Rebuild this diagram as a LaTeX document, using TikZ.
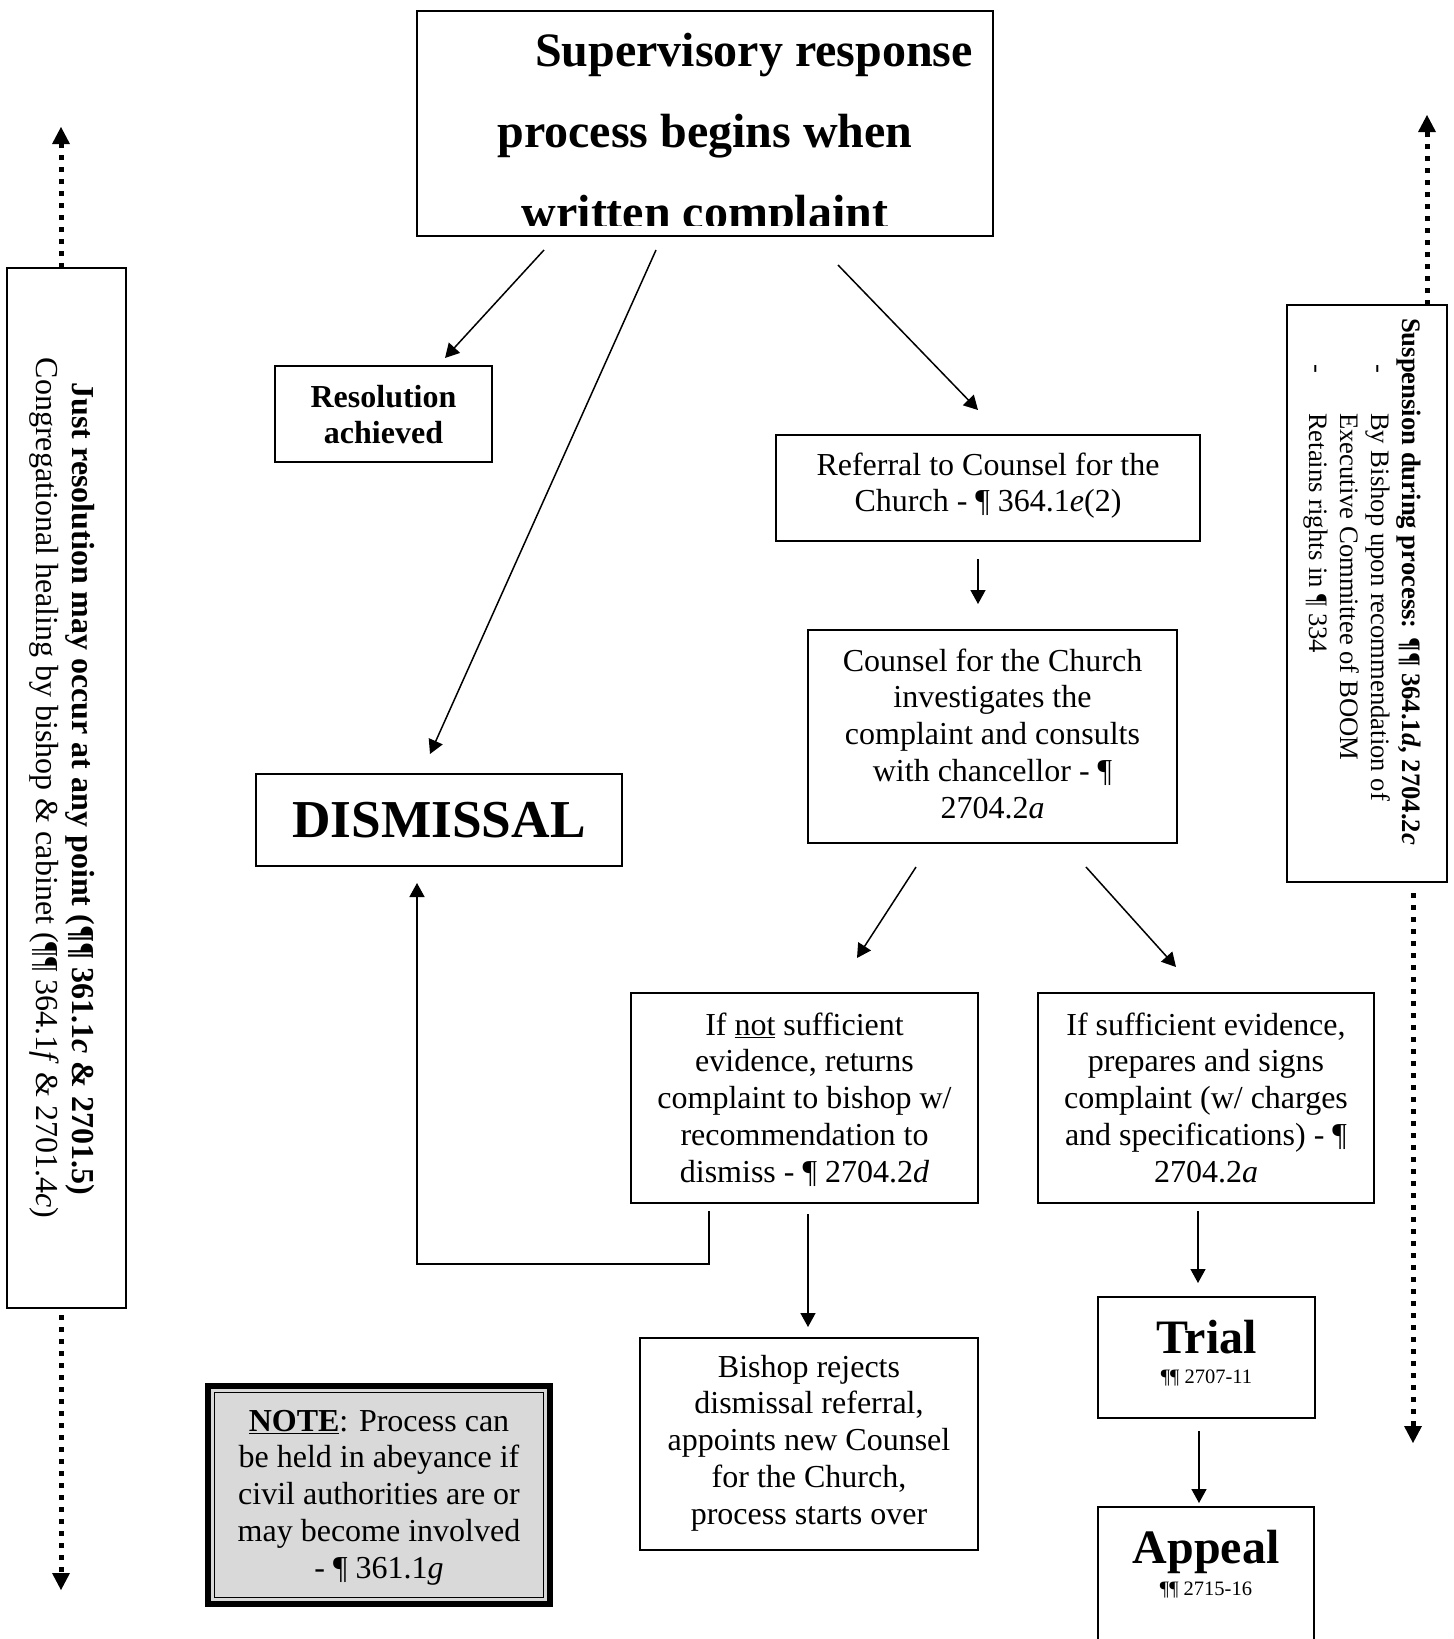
\documentclass[tikz,border=0pt]{standalone}
\usepackage{fontspec}
\setmainfont{Liberation Serif}
\usetikzlibrary{arrows.meta,calc}
\newcommand{\fsz}[2]{\fontsize{#1}{#2}\selectfont}
\newcommand{\lines}[1]{\begin{tabular}[t]{@{}c@{}}#1\end{tabular}}
\begin{document}
\begin{tikzpicture}[x=1pt,y=-1pt,
  box/.style={draw, line width=1.8pt, inner sep=0pt, outer sep=0pt},
  txt/.style={inner sep=0pt, outer sep=0pt},
  body/.style={txt, font=\fsz{32}{36.8}},
  bbody/.style={txt, font=\fsz{32}{36.8}\bfseries},
  small/.style={txt, font=\fsz{26.67}{30.67}},
  arr/.style={line width=1.5pt, -{Triangle[width=15pt,length=14pt]}},
  dots/.style={line width=5pt, dash pattern=on 5pt off 7pt, -{Triangle[width=18pt,length=17pt,line width=0pt]}},
]
\useasboundingbox (0,0) rectangle (1454,1639);
\fill[white] (0,0) rectangle (1454,1639);

% boxes
\node[box, minimum width=576pt, minimum height=225pt] (top) at (705,123.5) {};
\node[box, minimum width=217pt, minimum height=96pt] (res) at (383.5,414) {};
\node[box, minimum width=366pt, minimum height=92pt] (dis) at (439,820) {};
\node[box, minimum width=424pt, minimum height=106pt] (ref) at (988,488) {};
\node[box, minimum width=369pt, minimum height=213pt] (cou) at (992.5,736.5) {};
\node[box, minimum width=347pt, minimum height=210pt] (notb) at (804.5,1098) {};
\node[box, minimum width=336pt, minimum height=210pt] (suff) at (1206,1098) {};
\node[box, minimum width=338pt, minimum height=212pt] (bish) at (809,1444) {};
\node[box, minimum width=217pt, minimum height=121pt] (trial) at (1206.5,1357.5) {};
\node[box, minimum width=216pt, minimum height=193pt] (appeal) at (1206,1603.5) {};
\node[box, minimum width=119pt, minimum height=1040pt] (left) at (66.5,788) {};
\node[box, minimum width=160pt, minimum height=577pt] (right) at (1367,593.5) {};
\node[draw, line width=6pt, fill=gray!30, inner sep=0pt, outer sep=0pt,
      minimum width=342pt, minimum height=218pt] (note) at (379,1495) {};
\draw[line width=1.5pt] ($(note.south west)+(6.5,-6.5)$) rectangle ($(note.north east)+(-6.5,6.5)$);

% top text (third line clipped by the box)
\begin{scope}
\clip (417,11) rectangle (993,225);
\node[txt, anchor=base west, font=\fsz{48}{81}\bfseries] (top1) at (535,66) {Supervisory response};
\node[txt, anchor=base, font=\fsz{48}{81}\bfseries] (top2) at (705,147) {process begins when};
\node[txt, anchor=base, font=\fsz{48}{81}\bfseries] (top3) at (705,228) {written complaint};
\end{scope}

% box texts
\node[bbody, anchor=base] (res-t) at (383.5,407) {\lines{Resolution\\achieved}};
\node[txt, anchor=base, font=\fsz{53.3}{60}\bfseries] (dis-t) at (439,837) {DISMISSAL};
\node[body, anchor=base] (ref-t) at (988,475) {\lines{Referral to Counsel for the\\Church - ¶ 364.1\textit{e}(2)}};
\node[body, anchor=base] (cou-t) at (992.5,671) {\lines{Counsel for the Church\\investigates the\\complaint and consults\\with chancellor - ¶\\2704.2\textit{a}}};
\node[body, anchor=base] (notb-t) at (804.5,1035) {\lines{If \underline{not} sufficient\\evidence, returns\\complaint to bishop w/\\recommendation to\\dismiss - ¶ 2704.2\textit{d}}};
\node[body, anchor=base] (suff-t) at (1206,1035) {\lines{If sufficient evidence,\\prepares and signs\\complaint (w/ charges\\and specifications) - ¶\\2704.2\textit{a}}};
\node[body, anchor=base] (bish-t) at (809,1377) {\lines{Bishop rejects\\dismissal referral,\\appoints new Counsel\\for the Church,\\process starts over}};
\node[txt, anchor=base, font=\fsz{48}{55}\bfseries] (trial-t) at (1206.5,1353) {Trial};
\node[txt, anchor=base, font=\fsz{20.5}{24}] (trial-r) at (1206.5,1383) {¶¶ 2707-11};
\node[txt, anchor=base, font=\fsz{48}{55}\bfseries] (appeal-t) at (1206,1563) {Appeal};
\node[txt, anchor=base, font=\fsz{20.5}{24}] (appeal-r) at (1206,1595) {¶¶ 2715-16};
\node[body, anchor=base] (note-t) at (379,1431) {\lines{\underline{\textbf{NOTE}}: Process can\\be held in abeyance if\\civil authorities are or\\may become involved\\- ¶ 361.1\textit{g}}};

% rotated side texts
\node[bbody, anchor=base, rotate=-90] (left-b) at (72,789) {Just resolution may occur at any point (¶¶ 361.1\textit{c} \& 2701.5)};
\node[body, anchor=base, rotate=-90] (left-r) at (36,788) {Congregational healing by bishop \& cabinet (¶¶ 364.1\textit{f} \& 2701.4\textit{c})};

\node[small, anchor=base west, rotate=-90, font=\fsz{26.67}{30.67}\bfseries] (rs1) at (1402,318) {Suspension during process: ¶¶ 364.1\textit{d}, 2704.2\textit{c}};
\node[small, anchor=base west, rotate=-90] (rsd1) at (1371,364) {-};
\node[small, anchor=base west, rotate=-90] (rs2) at (1371,413) {By Bishop upon recommendation of};
\node[small, anchor=base west, rotate=-90] (rs3) at (1340,413) {Executive Committee of BOOM};
\node[small, anchor=base west, rotate=-90] (rsd2) at (1309,364) {-};
\node[small, anchor=base west, rotate=-90] (rs4) at (1309,413) {Retains rights in ¶ 334};

% connectors
\draw[arr] ($(top.south west)+(127,14)$) -- ($(res.north west)+(170,-8)$);
\draw[arr] ($(top.south west)+(239,14)$) -- ($(dis.north west)+(174,-20)$);
\draw[arr] ($(top.south west)+(421,29)$) -- ($(ref.north west)+(202,-25)$);
\draw[arr] ($(ref.south west)+(202,18)$) -- ($(cou.north west)+(170,-26)$);
\draw[arr] ($(cou.south west)+(108,24)$) -- ($(notb.north west)+(226,-35)$);
\draw[arr] ($(cou.south west)+(278,24)$) -- ($(suff.north west)+(138,-26)$);
\draw[arr] ($(notb.south west)+(78,8)$) -- ++(0,53) -| ($(dis.south west)+(161,17)$);
\draw[arr] ($(notb.south west)+(177,11)$) -- ($(bish.north west)+(168,-11)$);
\draw[arr] ($(suff.south west)+(160,8)$) -- ($(trial.north west)+(100,-14)$);
\draw[arr] ($(trial.south west)+(101,13)$) -- ($(appeal.north west)+(101,-4)$);

% dotted side arrows
\coordinate (lup) at (61,127);
\coordinate (ldn) at (61,1590);
\coordinate (rup) at (1427,115);
\coordinate (rdn) at (1413,1443);
\draw[dots] ($(left.north west)+(54,0)$) -- (lup);
\draw[dots] ($(left.south west)+(54,7)$) -- (ldn);
\draw[dots] ($(right.north west)+(140,0)$) -- (rup);
\draw[dots] ($(right.south west)+(126,11)$) -- (rdn);
\end{tikzpicture}
\end{document}
